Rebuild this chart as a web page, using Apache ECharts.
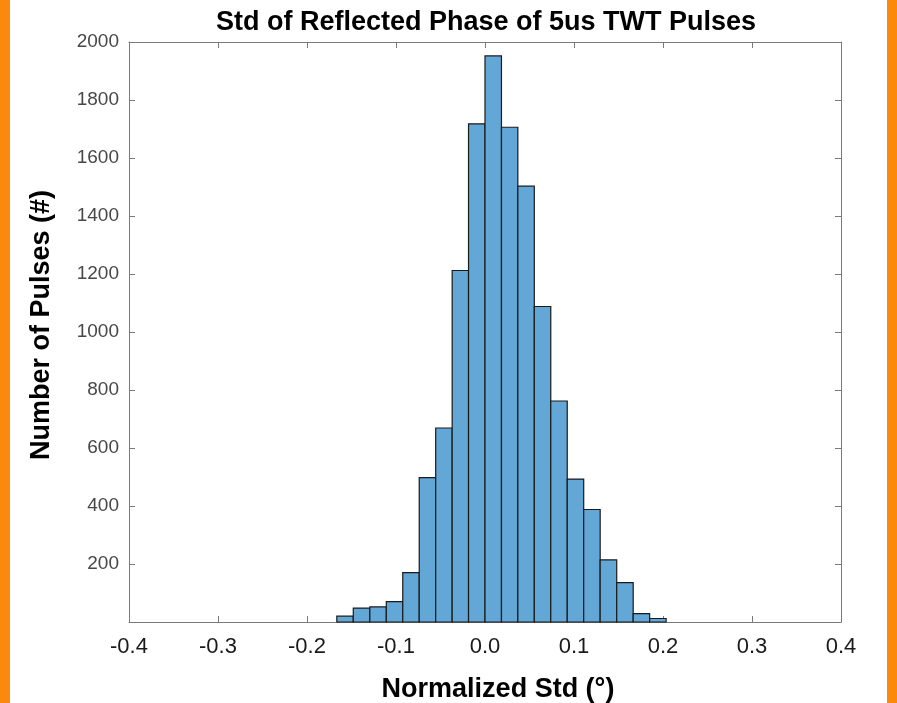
<!DOCTYPE html>
<html>
<head>
<meta charset="utf-8">
<script src="https://cdn.jsdelivr.net/npm/echarts@6/dist/echarts.min.js"></script>
<style>
  html, body { margin: 0; padding: 0; background: #fff; }
  #chart { width: 897px; height: 703px; }
</style>
</head>
<body>
<div id="chart"></div>
<script>
// histogram bin edges (normalized std) and counts per bin
var binEdges = [-0.1665, -0.148, -0.1294, -0.1109, -0.0924, -0.0739, -0.0554, -0.0369, -0.0185, 0,
  0.0185, 0.0369, 0.0554, 0.0739, 0.0924, 0.1109, 0.1294, 0.148, 0.1665, 0.185, 0.2035];
var binCounts = [20, 48, 52, 70, 170, 498, 669, 1212, 1718, 1952, 1706, 1503, 1088, 762, 493, 388, 214, 136, 29, 12];

var histData = binCounts.map(function (c, i) {
  return [binEdges[i], binEdges[i + 1], c];
});

var chart = echarts.init(document.getElementById('chart'));

var boxLine = { show: true, onZero: false, lineStyle: { color: '#7a7a7a', width: 1 } };
var boxTick = { show: true, inside: true, length: 6, lineStyle: { color: '#7a7a7a' } };

var option = {
  animation: false,
  backgroundColor: '#ffffff',
  title: {
    text: 'Std of Reflected Phase of 5us TWT Pulses',
    left: 481,
    textAlign: 'center',
    top: 4,
    textStyle: { fontFamily: 'Liberation Sans', fontSize: 27, fontWeight: 'bold', color: '#000' }
  },
  graphic: [
    { type: 'rect', shape: { x: 0, y: 0, width: 10, height: 703 }, style: { fill: '#fb8a0c' } },
    { type: 'rect', shape: { x: 887, y: 0, width: 10, height: 703 }, style: { fill: '#fb8a0c' } }
  ],
  grid: { left: 129, right: 56, top: 42, bottom: 81, outerBoundsMode: 'none' },
  xAxis: [{
    type: 'value',
    min: -0.4, max: 0.4, interval: 0.1,
    name: 'Normalized Std (°)',
    nameLocation: 'middle',
    nameGap: 54,
    nameTextStyle: {
      fontFamily: 'Liberation Sans', fontSize: 27, fontWeight: 'bold', color: '#000',
      padding: [0, 0, 0, 26]
    },
    axisLine: boxLine,
    axisTick: boxTick,
    axisLabel: {
      fontFamily: 'Liberation Sans', fontSize: 22, color: '#1a1a1a', margin: 14,
      formatter: function (v) { return v.toFixed(1); }
    },
    splitLine: { show: false }
  }, {
    type: 'value', position: 'top',
    min: -0.4, max: 0.4, interval: 0.1,
    axisLine: boxLine,
    axisTick: boxTick,
    axisLabel: { show: false },
    splitLine: { show: false }
  }],
  yAxis: [{
    type: 'value',
    min: 0, max: 2000, interval: 200,
    name: 'Number of Pulses (#)',
    nameLocation: 'middle',
    nameGap: 74,
    nameTextStyle: {
      fontFamily: 'Liberation Sans', fontSize: 27, fontWeight: 'bold', color: '#000',
      padding: [0, 0, 0, 14]
    },
    axisLine: boxLine,
    axisTick: boxTick,
    axisLabel: {
      fontFamily: 'Liberation Sans', fontSize: 19, color: '#474747', margin: 10,
      formatter: function (v) { return v === 0 ? '' : String(v); }
    },
    splitLine: { show: false }
  }, {
    type: 'value', position: 'right',
    min: 0, max: 2000, interval: 200,
    axisLine: boxLine,
    axisTick: boxTick,
    axisLabel: { show: false },
    splitLine: { show: false }
  }],
  series: [{
    type: 'custom',
    xAxisIndex: 0,
    yAxisIndex: 0,
    data: histData,
    encode: { x: [0, 1], y: 2 },
    renderItem: function (params, api) {
      var p0 = api.coord([api.value(0), 0]);
      var p1 = api.coord([api.value(1), api.value(2)]);
      return {
        type: 'rect',
        shape: { x: p0[0], y: p1[1], width: p1[0] - p0[0], height: p0[1] - p1[1] },
        style: { fill: '#63a7d7', stroke: '#1a1a1a', lineWidth: 1.2 }
      };
    }
  }]
};

chart.setOption(option);
</script>
</body>
</html>
